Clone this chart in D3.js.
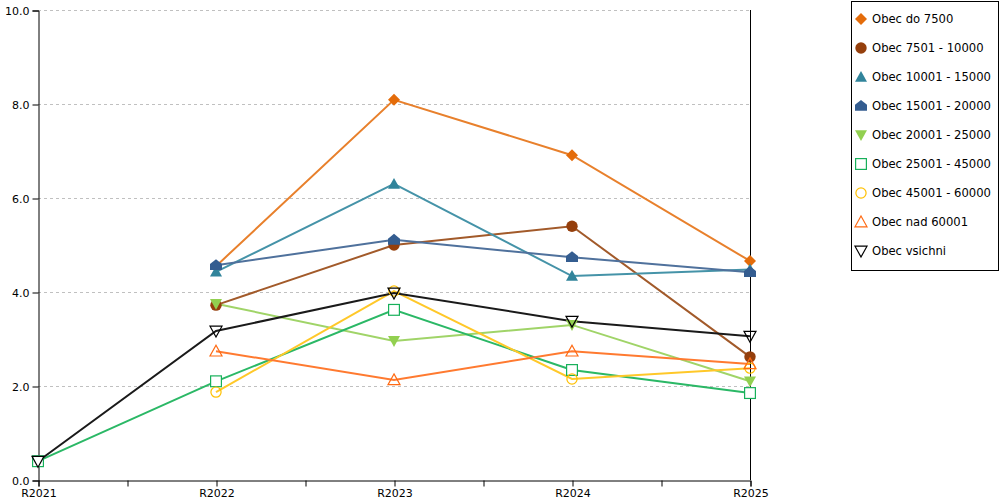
<!DOCTYPE html>
<html>
<head>
<meta charset="utf-8">
<script src="https://cdn.jsdelivr.net/npm/d3@7"></script>
<style>
  body { margin: 0; background: #fff; }
  text { font-family: "DejaVu Sans", Verdana, sans-serif; }
</style>
</head>
<body>
<div id="chart"></div>
<script>
// Categories and values
const years = ["R2021", "R2022", "R2023", "R2024", "R2025"];
const seriesNames = [
    "Obec do 7500", "Obec 7501 - 10000", "Obec 10001 - 15000", "Obec 15001 - 20000",
    "Obec 20001 - 25000", "Obec 25001 - 45000", "Obec 45001 - 60000", "Obec nad 60001", "Obec vsichni"
];
const do7500   = [null, 4.55, 8.09, 6.91, 4.66];
const s7501    = [null, 3.72, 5.00, 5.40, 2.62];
const s10001   = [null, 4.43, 6.30, 4.34, 4.48];
const s15001   = [null, 4.57, 5.11, 4.74, 4.42];
const s20001   = [null, 3.75, 2.96, 3.30, 2.10];
const s25001   = [0.40, 2.10, 3.62, 2.34, 1.85];
const s45001   = [null, 1.87, 4.02, 2.15, 2.38];
const nad60001 = [null, 2.74, 2.13, 2.74, 2.47];
const vsichni  = [0.40, 3.17, 3.98, 3.38, 3.06];
const yTicks = [0, 2, 4, 6, 8, 10];

const seriesValues = [do7500, s7501, s10001, s15001, s20001, s25001, s45001, nad60001, vsichni];
const colors = ["#e46c0a", "#953f0c", "#31849b", "#345d90", "#92d050", "#17b05a", "#ffc000", "#ff6a13", "#000000"];
const lineColors = ["#e8802c", "#a25a2a", "#4593a8", "#4f719c", "#a0d468", "#2bb866", "#ffc829", "#ff7a30", "#1a1a1a"];
const shapes = ["diamond", "circle", "triangle", "house", "triangleDown", "squareOpen", "circleOpen", "triangleOpen", "triangleDownOpen"];

const width = 1000, height = 500;
const plotLeft = 38, plotRight = 750, plotTop = 10, plotBottom = 480;

const svg = d3.select("#chart").append("svg")
    .attr("width", width)
    .attr("height", height);

const x = d3.scaleLinear().domain([0, years.length - 1]).range([plotLeft, plotRight]);
const y = d3.scaleLinear().domain([0, 10]).range([plotBottom, plotTop]);

// gridlines
svg.append("g")
    .selectAll("line")
    .data(yTicks.filter(d => d > 0))
    .join("line")
    .attr("x1", plotLeft).attr("x2", plotRight)
    .attr("y1", d => y(d) + 0.5).attr("y2", d => y(d) + 0.5)
    .attr("stroke", "#c0c0c0")
    .attr("stroke-dasharray", "3,3");

// right border line
svg.append("line")
    .attr("x1", plotRight + 0.5).attr("x2", plotRight + 0.5)
    .attr("y1", plotTop).attr("y2", plotBottom)
    .attr("stroke", "#000");

// axes
const yAxis = svg.append("g")
    .attr("transform", `translate(${plotLeft + 0.5},0.5)`)
    .call(d3.axisLeft(y).tickValues(yTicks).tickFormat(d3.format(".1f")).tickSize(6).tickPadding(3));

const xAxis = svg.append("g")
    .attr("transform", `translate(0.5,${plotBottom + 0.5})`)
    .call(d3.axisBottom(x)
        .tickValues(d3.range(0, years.length - 0.99, 0.5))
        .tickFormat(d => Number.isInteger(d) ? years[d] : "")
        .tickSize(6).tickPadding(2));

[yAxis, xAxis].forEach(a => {
    a.select(".domain").attr("stroke", "#000");
    a.selectAll(".tick line").attr("stroke", "#000");
    a.selectAll("text").attr("font-size", "11px").attr("fill", "#000")
        .style("font-family", '"DejaVu Sans", Verdana, sans-serif');
});
xAxis.selectAll("text").attr("dy", "0.8em");

// marker drawing
function drawMarker(sel, shape, color, cx, cy, s) {
    const g = sel.append("g").attr("transform", `translate(${cx},${cy})`);
    switch (shape) {
        case "diamond":
            g.append("path").attr("d", `M0,${-s}L${s},0L0,${s}L${-s},0Z`).attr("fill", color);
            break;
        case "circle":
            g.append("circle").attr("r", s * 0.95).attr("fill", color);
            break;
        case "triangle":
            g.append("path").attr("d", `M0,${-s}L${s},${s * 0.8}L${-s},${s * 0.8}Z`).attr("fill", color);
            break;
        case "house":
            g.append("path").attr("d", `M0,${-s}L${s},${-s * 0.2}L${s},${s * 0.8}L${-s},${s * 0.8}L${-s},${-s * 0.2}Z`).attr("fill", color);
            break;
        case "triangleDown":
            g.append("path").attr("d", `M0,${s}L${s},${-s * 0.8}L${-s},${-s * 0.8}Z`).attr("fill", color);
            break;
        case "squareOpen":
            g.append("rect").attr("x", -s * 0.9).attr("y", -s * 0.9).attr("width", s * 1.8).attr("height", s * 1.8)
                .attr("fill", "#fff").attr("stroke", color).attr("stroke-width", 1.2);
            break;
        case "circleOpen":
            g.append("circle").attr("r", s * 0.85).attr("fill", "none").attr("stroke", color).attr("stroke-width", 1.2);
            break;
        case "triangleOpen":
            g.append("path").attr("d", `M0,${-s}L${s},${s * 0.8}L${-s},${s * 0.8}Z`)
                .attr("fill", "none").attr("stroke", color).attr("stroke-width", 1.2);
            break;
        case "triangleDownOpen":
            g.append("path").attr("d", `M0,${s}L${s},${-s * 0.8}L${-s},${-s * 0.8}Z`)
                .attr("fill", "none").attr("stroke", color).attr("stroke-width", 1.2);
            break;
    }
}

const line = d3.line()
    .defined(d => d != null)
    .x((d, i) => x(i))
    .y(d => y(d));

// lines first
seriesValues.forEach((vals, k) => {
    svg.append("path")
        .datum(vals)
        .attr("fill", "none")
        .attr("stroke", lineColors[k])
        .attr("stroke-width", 2)
        .attr("d", line);
});

// then markers
seriesValues.forEach((vals, k) => {
    const mg = svg.append("g");
    vals.forEach((v, i) => {
        if (v == null) return;
        drawMarker(mg, shapes[k], colors[k], x(i), y(v), 6);
    });
});

// legend
const legend = svg.append("g");
legend.append("rect")
    .attr("x", 851.5).attr("y", 1.5)
    .attr("width", 147).attr("height", 269)
    .attr("fill", "#fff").attr("stroke", "#000");

seriesNames.forEach((name, k) => {
    const ly = 19 + k * 29;
    drawMarker(legend, shapes[k], colors[k], 861, ly, 6);
    legend.append("text")
        .attr("x", 872).attr("y", ly)
        .attr("dy", "0.35em")
        .attr("font-size", "11.6px")
        .attr("fill", "#000")
        .text(name);
});
</script>
</body>
</html>
